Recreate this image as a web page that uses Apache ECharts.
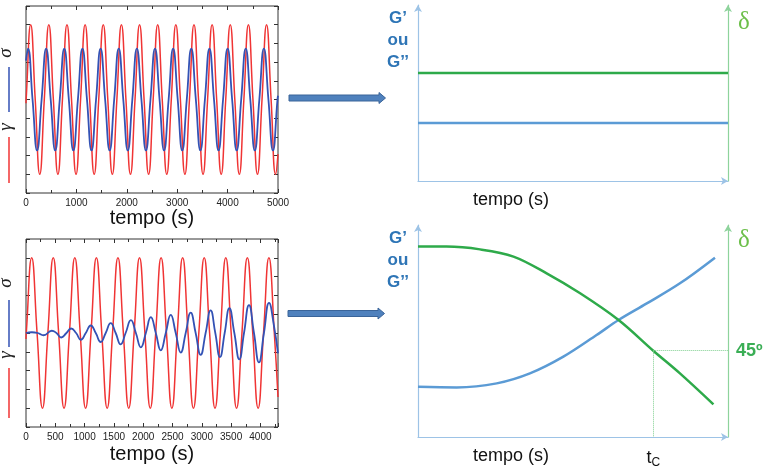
<!DOCTYPE html>
<html><head><meta charset="utf-8">
<script src="https://cdn.jsdelivr.net/npm/echarts@6/dist/echarts.min.js"></script>
<style>html,body{margin:0;padding:0;background:#fff}#c{width:775px;height:470px}</style>
</head><body><div id="c"></div><script>
// ---- Top-left: strain (gamma) and stress (sigma) vs time, liquid-like constant response
const topGammaT = [0,3,93,183,273,363,453,543,633,723,813,903,993,1083,1173,1263,1353,1443,1533,1623,1713,1803,1893,1983,2073,2163,2253,2343,2433,2523,2613,2703,2793,2883,2973,3063,3153,3243,3333,3423,3513,3603,3693,3783,3873,3963,4053,4143,4233,4323,4413,4503,4593,4683,4773,4863,4953,5000];
const topGammaV = [-0.05,0,1,0,-1,0,1,0,-1,0,1,0,-1,0,1,0,-1,0,1,0,-1,0,1,0,-1,0,1,0,-1,0,1,0,-1,0,1,0,-1,0,1,0,-1,0,1,0,-1,0,1,0,-1,0,1,0,-1,0,1,0,-1,-0.73];
const topSigmaT = [0,40,130,220,310,400,490,580,670,760,850,940,1030,1120,1210,1300,1390,1480,1570,1660,1750,1840,1930,2020,2110,2200,2290,2380,2470,2560,2650,2740,2830,2920,3010,3100,3190,3280,3370,3460,3550,3640,3730,3820,3910,4000,4090,4180,4270,4360,4450,4540,4630,4720,4810,4900,4990,5000];
const topSigmaV = [0.52,0.68,0,-0.68,0,0.68,0,-0.68,0,0.68,0,-0.68,0,0.68,0,-0.68,0,0.68,0,-0.68,0,0.68,0,-0.68,0,0.68,0,-0.68,0,0.68,0,-0.68,0,0.68,0,-0.68,0,0.68,0,-0.68,0,0.68,0,-0.68,0,0.68,0,-0.68,0,0.68,0,-0.68,0,0.68,0,-0.68,0,0.05];
// ---- Bottom-left: curing sample, stress grows
const botGammaT = [0,5,97,189,281,373,465,557,649,741,833,925,1017,1109,1201,1293,1385,1477,1569,1661,1753,1845,1937,2029,2121,2213,2305,2397,2489,2581,2673,2765,2857,2949,3041,3133,3225,3317,3409,3501,3593,3685,3777,3869,3961,4053,4145,4237,4300];
const botGammaV = [-0.08,0,1,0,-1,0,1,0,-1,0,1,0,-1,0,1,0,-1,0,1,0,-1,0,1,0,-1,0,1,0,-1,0,1,0,-1,0,1,0,-1,0,1,0,-1,0,1,0,-1,0,1,0,-0.85];
const botSigmaT = [0,100,200,300,440,520,600,690,770,855,935,1020,1105,1190,1275,1360,1445,1530,1615,1700,1790,1875,1960,2045,2130,2215,2300,2385,2470,2555,2640,2725,2810,2895,2980,3065,3150,3230,3310,3390,3470,3555,3640,3720,3805,3890,3975,4060,4147,4230,4300];
const botSigmaV = [0,0.01,0,-0.03,0.03,0,-0.06,0,0.06,0,-0.09,0,0.1,0,-0.12,0,0.13,0,-0.15,0,0.17,0,-0.19,0,0.21,0,-0.23,0,0.24,0,-0.26,0,0.27,0,-0.29,0,0.3,0,-0.32,0,0.33,0,-0.35,0,0.37,0,-0.39,0,0.4,0.1,-0.27];
// ---- Top-right schematic: constant G and delta
const trX = [0, 100];
const trDelta = [61.4, 61.4];
const trG = [33, 33];
// ---- Bottom-right schematic: curing, G rises, delta falls
const brDeltaX = [0, 9.2, 20, 30.8, 41.5, 52.3, 64.7, 75.9, 84.5, 95.3];
const brDeltaY = [89.8, 89.8, 88.5, 85.1, 77.2, 67.8, 55.2, 40.7, 30.0, 15.4];
const brGX = [0, 12.5, 25.4, 36.1, 46.9, 57.6, 64.7, 73.8, 84.5, 95.8];
const brGY = [23.7, 23.4, 25.3, 30.0, 37.9, 48.1, 55.2, 63.0, 72.5, 84.6];
const tC = 75.9, delta45 = 40.7;
const leftXTicksTop = [0,1000,2000,3000,4000,5000];
const leftXTicksBot = [0,500,1000,1500,2000,2500,3000,3500,4000];

const zip = (a, b) => a.map((v, i) => [v, b[i]]);
const RED = '#f03434', BLUE = '#3352b5', GBLUE = '#5b9bd5', GGREEN = '#2eaa4a';
const AXBLUE = '#9dc3e6', AXGREEN = '#8ed39c', TXTBLUE = '#2e75b6', TXTGREEN = '#3aae55', DELTA = '#6cbf4a';
const FONT = 'Liberation Sans, Arial, sans-serif';

function boxX(grid, max, interval, labels, name, gap, pos) {
  return {
    type: 'value', gridIndex: grid, min: 0, max: max, interval: interval, position: pos,
    axisLine: { show: false, onZero: false },
    axisTick: { show: true, inside: true, length: 4, lineStyle: { color: '#333' } },
    minorTick: { show: true, splitNumber: 2, length: 3, lineStyle: { color: '#333' } },
    splitLine: { show: false },
    axisLabel: pos === 'top' ? { show: false } : {
      show: true, margin: 5, fontSize: 10, color: '#222', fontFamily: FONT,
      formatter: v => labels.indexOf(v) >= 0 ? String(v) : ''
    },
    name: pos === 'top' ? '' : name, nameLocation: 'middle', nameGap: gap,
    nameTextStyle: { fontSize: 20, color: '#111', fontFamily: FONT }
  };
}
function boxY(grid, pos) {
  return {
    type: 'value', gridIndex: grid, min: -1.25, max: 1.25, interval: 0.25, position: pos,
    axisLine: { show: false, onZero: false },
    axisTick: { show: true, inside: true, length: 4, lineStyle: { color: '#333' } },
    splitLine: { show: false }, axisLabel: { show: false }
  };
}
function arrowAxis(grid, color, extra) {
  return Object.assign({
    type: 'value', gridIndex: grid, min: 0, max: 100,
    axisLine: { show: true, onZero: false, symbol: ['none', 'arrow'], symbolSize: [6, 7], lineStyle: { color: color, width: 1.2 } },
    axisTick: { show: false }, splitLine: { show: false }, axisLabel: { show: false }
  }, extra || {});
}

const option = {
  backgroundColor: '#fff',
  animation: false,
  grid: [
    { left: 26, top: 6, width: 252, height: 187, show: true, borderColor: '#333', borderWidth: 1 },
    { left: 26, top: 239, width: 252, height: 188, show: true, borderColor: '#333', borderWidth: 1 },
    { left: 418, top: 5, width: 310, height: 176 },
    { left: 418, top: 225, width: 310, height: 212 }
  ],
  xAxis: [
    boxX(0, 5000, 1000, leftXTicksTop, 'tempo (s)', 6, 'bottom'),
    boxX(0, 5000, 1000, leftXTicksTop, '', 0, 'top'),
    boxX(1, 4300, 500, leftXTicksBot, 'tempo (s)', 17, 'bottom'),
    boxX(1, 4300, 500, leftXTicksBot, '', 0, 'top'),
    arrowAxis(2, AXBLUE, { position: 'bottom', axisLabel: { show: true, customValues: [30], margin: 10, fontSize: 18, color: '#111', fontFamily: FONT, formatter: () => 'tempo (s)' } }),
    arrowAxis(3, AXBLUE, { position: 'bottom', axisLabel: { show: true, customValues: [30, tC], margin: 10, fontSize: 18, color: '#111', fontFamily: FONT,
      formatter: v => v === tC ? 't{sub|C}' : 'tempo (s)',
      rich: { sub: { fontSize: 12, padding: [10, 0, 0, 0], color: '#111', fontFamily: FONT } } } })
  ],
  yAxis: [
    boxY(0, 'left'), boxY(0, 'right'), boxY(1, 'left'), boxY(1, 'right'),
    arrowAxis(2, AXBLUE, { position: 'left' }),
    arrowAxis(2, AXGREEN, { position: 'right' }),
    arrowAxis(3, AXBLUE, { position: 'left' }),
    arrowAxis(3, AXGREEN, { position: 'right', axisLabel: { show: true, inside: false, customValues: [delta45], margin: 8, fontSize: 18, fontWeight: 'bold', color: TXTGREEN, fontFamily: FONT, formatter: () => '45º' } })
  ],
  series: [
    { type: 'line', xAxisIndex: 0, yAxisIndex: 0, data: zip(topGammaT, topGammaV), smooth: 0.5, showSymbol: false, lineStyle: { color: RED, width: 1.5 }, z: 2 },
    { type: 'line', xAxisIndex: 0, yAxisIndex: 0, data: zip(topSigmaT, topSigmaV), smooth: 0.5, showSymbol: false, lineStyle: { color: BLUE, width: 1.8 }, z: 3 },
    { type: 'line', xAxisIndex: 2, yAxisIndex: 2, data: zip(botGammaT, botGammaV), smooth: 0.5, showSymbol: false, lineStyle: { color: RED, width: 1.5 }, z: 2 },
    { type: 'line', xAxisIndex: 2, yAxisIndex: 2, data: zip(botSigmaT, botSigmaV), smooth: 0.5, showSymbol: false, lineStyle: { color: BLUE, width: 1.8 }, z: 3 },
    { type: 'line', xAxisIndex: 4, yAxisIndex: 5, data: zip(trX, trDelta), showSymbol: false, lineStyle: { color: GGREEN, width: 2.5 } },
    { type: 'line', xAxisIndex: 4, yAxisIndex: 4, data: zip(trX, trG), showSymbol: false, lineStyle: { color: GBLUE, width: 2.5 } },
    { type: 'line', xAxisIndex: 5, yAxisIndex: 7, data: zip(brDeltaX, brDeltaY), smooth: 0.35, showSymbol: false, lineStyle: { color: GGREEN, width: 2.5 }, z: 3,
      markLine: { silent: true, symbol: 'none', label: { show: false }, lineStyle: { color: '#7fcf8f', type: 'dotted', width: 1 },
        data: [[{ coord: [tC, delta45] }, { coord: [100, delta45] }], [{ coord: [tC, delta45] }, { coord: [tC, 0] }]] } },
    { type: 'line', xAxisIndex: 5, yAxisIndex: 6, data: zip(brGX, brGY), smooth: 0.35, showSymbol: false, lineStyle: { color: GBLUE, width: 2.5 }, z: 2 }
  ],
  graphic: [
    // left rotated legends
    { type: 'text', x: 6, y: 53, rotation: Math.PI / 2, style: { text: 'σ', font: 'italic 19px Liberation Serif', fill: '#222', textAlign: 'center', textVerticalAlign: 'middle' } },
    { type: 'line', shape: { x1: 9, y1: 67, x2: 9, y2: 112 }, style: { stroke: BLUE, lineWidth: 1.5 } },
    { type: 'text', x: 6, y: 127, rotation: Math.PI / 2, style: { text: 'γ', font: 'italic 19px Liberation Serif', fill: '#222', textAlign: 'center', textVerticalAlign: 'middle' } },
    { type: 'line', shape: { x1: 9, y1: 137, x2: 9, y2: 183 }, style: { stroke: RED, lineWidth: 1.5 } },
    { type: 'text', x: 6, y: 283, rotation: Math.PI / 2, style: { text: 'σ', font: 'italic 19px Liberation Serif', fill: '#222', textAlign: 'center', textVerticalAlign: 'middle' } },
    { type: 'line', shape: { x1: 9, y1: 300, x2: 9, y2: 347 }, style: { stroke: BLUE, lineWidth: 1.5 } },
    { type: 'text', x: 6, y: 355, rotation: Math.PI / 2, style: { text: 'γ', font: 'italic 19px Liberation Serif', fill: '#222', textAlign: 'center', textVerticalAlign: 'middle' } },
    { type: 'line', shape: { x1: 9, y1: 368, x2: 9, y2: 418 }, style: { stroke: RED, lineWidth: 1.5 } },
    // block arrows
    { type: 'polygon', shape: { points: [[289, 95], [379, 95], [379, 92.5], [385.5, 98], [379, 103.5], [379, 101], [289, 101]] }, style: { fill: '#4f81bd', stroke: '#3a6499', lineWidth: 1 } },
    { type: 'polygon', shape: { points: [[288, 310.5], [378, 310.5], [378, 308], [384.5, 313.5], [378, 319], [378, 316.5], [288, 316.5]] }, style: { fill: '#4f81bd', stroke: '#3a6499', lineWidth: 1 } },
    // G labels
    { type: 'text', x: 398, y: 18, style: { text: 'G’', font: 'bold 17px Liberation Sans', fill: TXTBLUE, textAlign: 'center', textVerticalAlign: 'middle' } },
    { type: 'text', x: 398, y: 40, style: { text: 'ou', font: 'bold 17px Liberation Sans', fill: TXTBLUE, textAlign: 'center', textVerticalAlign: 'middle' } },
    { type: 'text', x: 398, y: 62, style: { text: 'G’’', font: 'bold 17px Liberation Sans', fill: TXTBLUE, textAlign: 'center', textVerticalAlign: 'middle' } },
    { type: 'text', x: 398, y: 238, style: { text: 'G’', font: 'bold 17px Liberation Sans', fill: TXTBLUE, textAlign: 'center', textVerticalAlign: 'middle' } },
    { type: 'text', x: 398, y: 260, style: { text: 'ou', font: 'bold 17px Liberation Sans', fill: TXTBLUE, textAlign: 'center', textVerticalAlign: 'middle' } },
    { type: 'text', x: 398, y: 282, style: { text: 'G’’', font: 'bold 17px Liberation Sans', fill: TXTBLUE, textAlign: 'center', textVerticalAlign: 'middle' } },
    { type: 'text', x: 744, y: 22, style: { text: 'δ', font: '25px Liberation Serif', fill: DELTA, textAlign: 'center', textVerticalAlign: 'middle' } },
    { type: 'text', x: 744, y: 240, style: { text: 'δ', font: '25px Liberation Serif', fill: DELTA, textAlign: 'center', textVerticalAlign: 'middle' } }
  ]
};
const chart = echarts.init(document.getElementById('c'), null, { renderer: 'canvas' });
chart.setOption(option);
</script></body></html>
